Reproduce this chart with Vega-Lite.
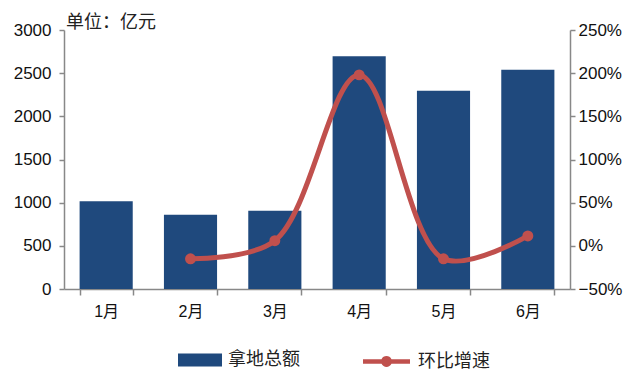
{
  "$schema": "https://vega.github.io/schema/vega-lite/v6.json",
  "width": 506,
  "height": 259,
  "autosize": {"type": "none"},
  "padding": {"left": 64, "top": 30, "right": 70, "bottom": 94},
  "background": "white",
  "title": {"text": "单位：亿元", "anchor": "start", "frame": "group", "font": "Noto Sans CJK SC", "fontSize": 18, "fontWeight": "normal", "color": "#222", "offset": -11, "dx": 2},
  "config": {"view": {"stroke": null}},
  "data": {"values": [
    {"month": "1月", "amount": 1015, "growth": null},
    {"month": "2月", "amount": 860, "growth": -0.15},
    {"month": "3月", "amount": 905, "growth": 0.06},
    {"month": "4月", "amount": 2695, "growth": 1.98},
    {"month": "5月", "amount": 2295, "growth": -0.15},
    {"month": "6月", "amount": 2540, "growth": 0.115}
  ]},
  "encoding": {
    "x": {"field": "month", "type": "nominal", "sort": null,
      "scale": {"paddingInner": 0.37, "paddingOuter": 0.185},
      "axis": {"title": null, "labelAngle": 0, "tickBand": "extent", "domainColor": "#888", "domainWidth": 1.5, "tickColor": "#888", "tickWidth": 1.5, "tickSize": 6, "labelPadding": 8, "labelFontSize": 16, "labelFont": "Liberation Sans, Noto Sans CJK SC", "labelColor": "#111"}}
  },
  "layer": [
    {
      "mark": {"type": "bar"},
      "encoding": {
        "y": {"field": "amount", "type": "quantitative", "scale": {"domain": [0, 3000]},
          "axis": {"title": null, "format": "d", "values": [0, 500, 1000, 1500, 2000, 2500, 3000], "grid": false, "domainColor": "#888", "domainWidth": 1.5, "tickColor": "#888", "tickWidth": 1.5, "tickSize": 5, "labelPadding": 8, "labelFontSize": 17, "labelFont": "Liberation Sans", "labelColor": "#111"}},
        "fill": {"datum": "拿地总额", "scale": {"range": ["#1f497d"]},
          "legend": {"orient": "none", "legendX": 114, "legendY": 308, "title": null, "symbolType": "M-1,-0.3H1V0.3H-1Z", "symbolSize": 1936, "symbolStrokeWidth": 0, "labelFontSize": 18, "labelFont": "Noto Sans CJK SC", "labelColor": "#222", "labelOffset": 6}}
      }
    },
    {
      "mark": {"type": "line", "interpolate": "catmull-rom", "strokeWidth": 5},
      "encoding": {
        "y": {"field": "growth", "type": "quantitative", "scale": {"domain": [-0.5, 2.5]},
          "axis": {"title": null, "orient": "right", "format": ".0%", "values": [-0.5, 0, 0.5, 1, 1.5, 2, 2.5], "grid": false, "domainColor": "#888", "domainWidth": 1.5, "tickColor": "#888", "tickWidth": 1.5, "tickSize": 5, "labelPadding": 3, "labelFontSize": 17, "labelFont": "Liberation Sans", "labelColor": "#111"}},
        "stroke": {"datum": "环比增速", "scale": {"range": ["#c0504d"]},
          "legend": {"orient": "none", "legendX": 299, "legendY": 308, "title": null, "symbolType": "M-1,-0.1H-0.2116A0.234,0.234 0 0 1 0.2116,-0.1H1V0.1H0.2116A0.234,0.234 0 0 1 -0.2116,0.1H-1Z", "symbolSize": 2209, "symbolFillColor": "#c0504d", "symbolStrokeWidth": 0, "labelFontSize": 18, "labelFont": "Noto Sans CJK SC", "labelColor": "#222", "labelOffset": 8,
            "encode": {"symbols": {"update": {"fill": {"value": "#c0504d"}, "strokeWidth": {"value": 0}}}}}}
      }
    },
    {
      "mark": {"type": "point", "filled": true, "size": 120, "color": "#c0504d", "opacity": 1},
      "encoding": {
        "y": {"field": "growth", "type": "quantitative", "scale": {"domain": [-0.5, 2.5]}, "axis": null}
      }
    }
  ],
  "resolve": {"scale": {"y": "independent", "fill": "independent", "stroke": "independent"}}
}
